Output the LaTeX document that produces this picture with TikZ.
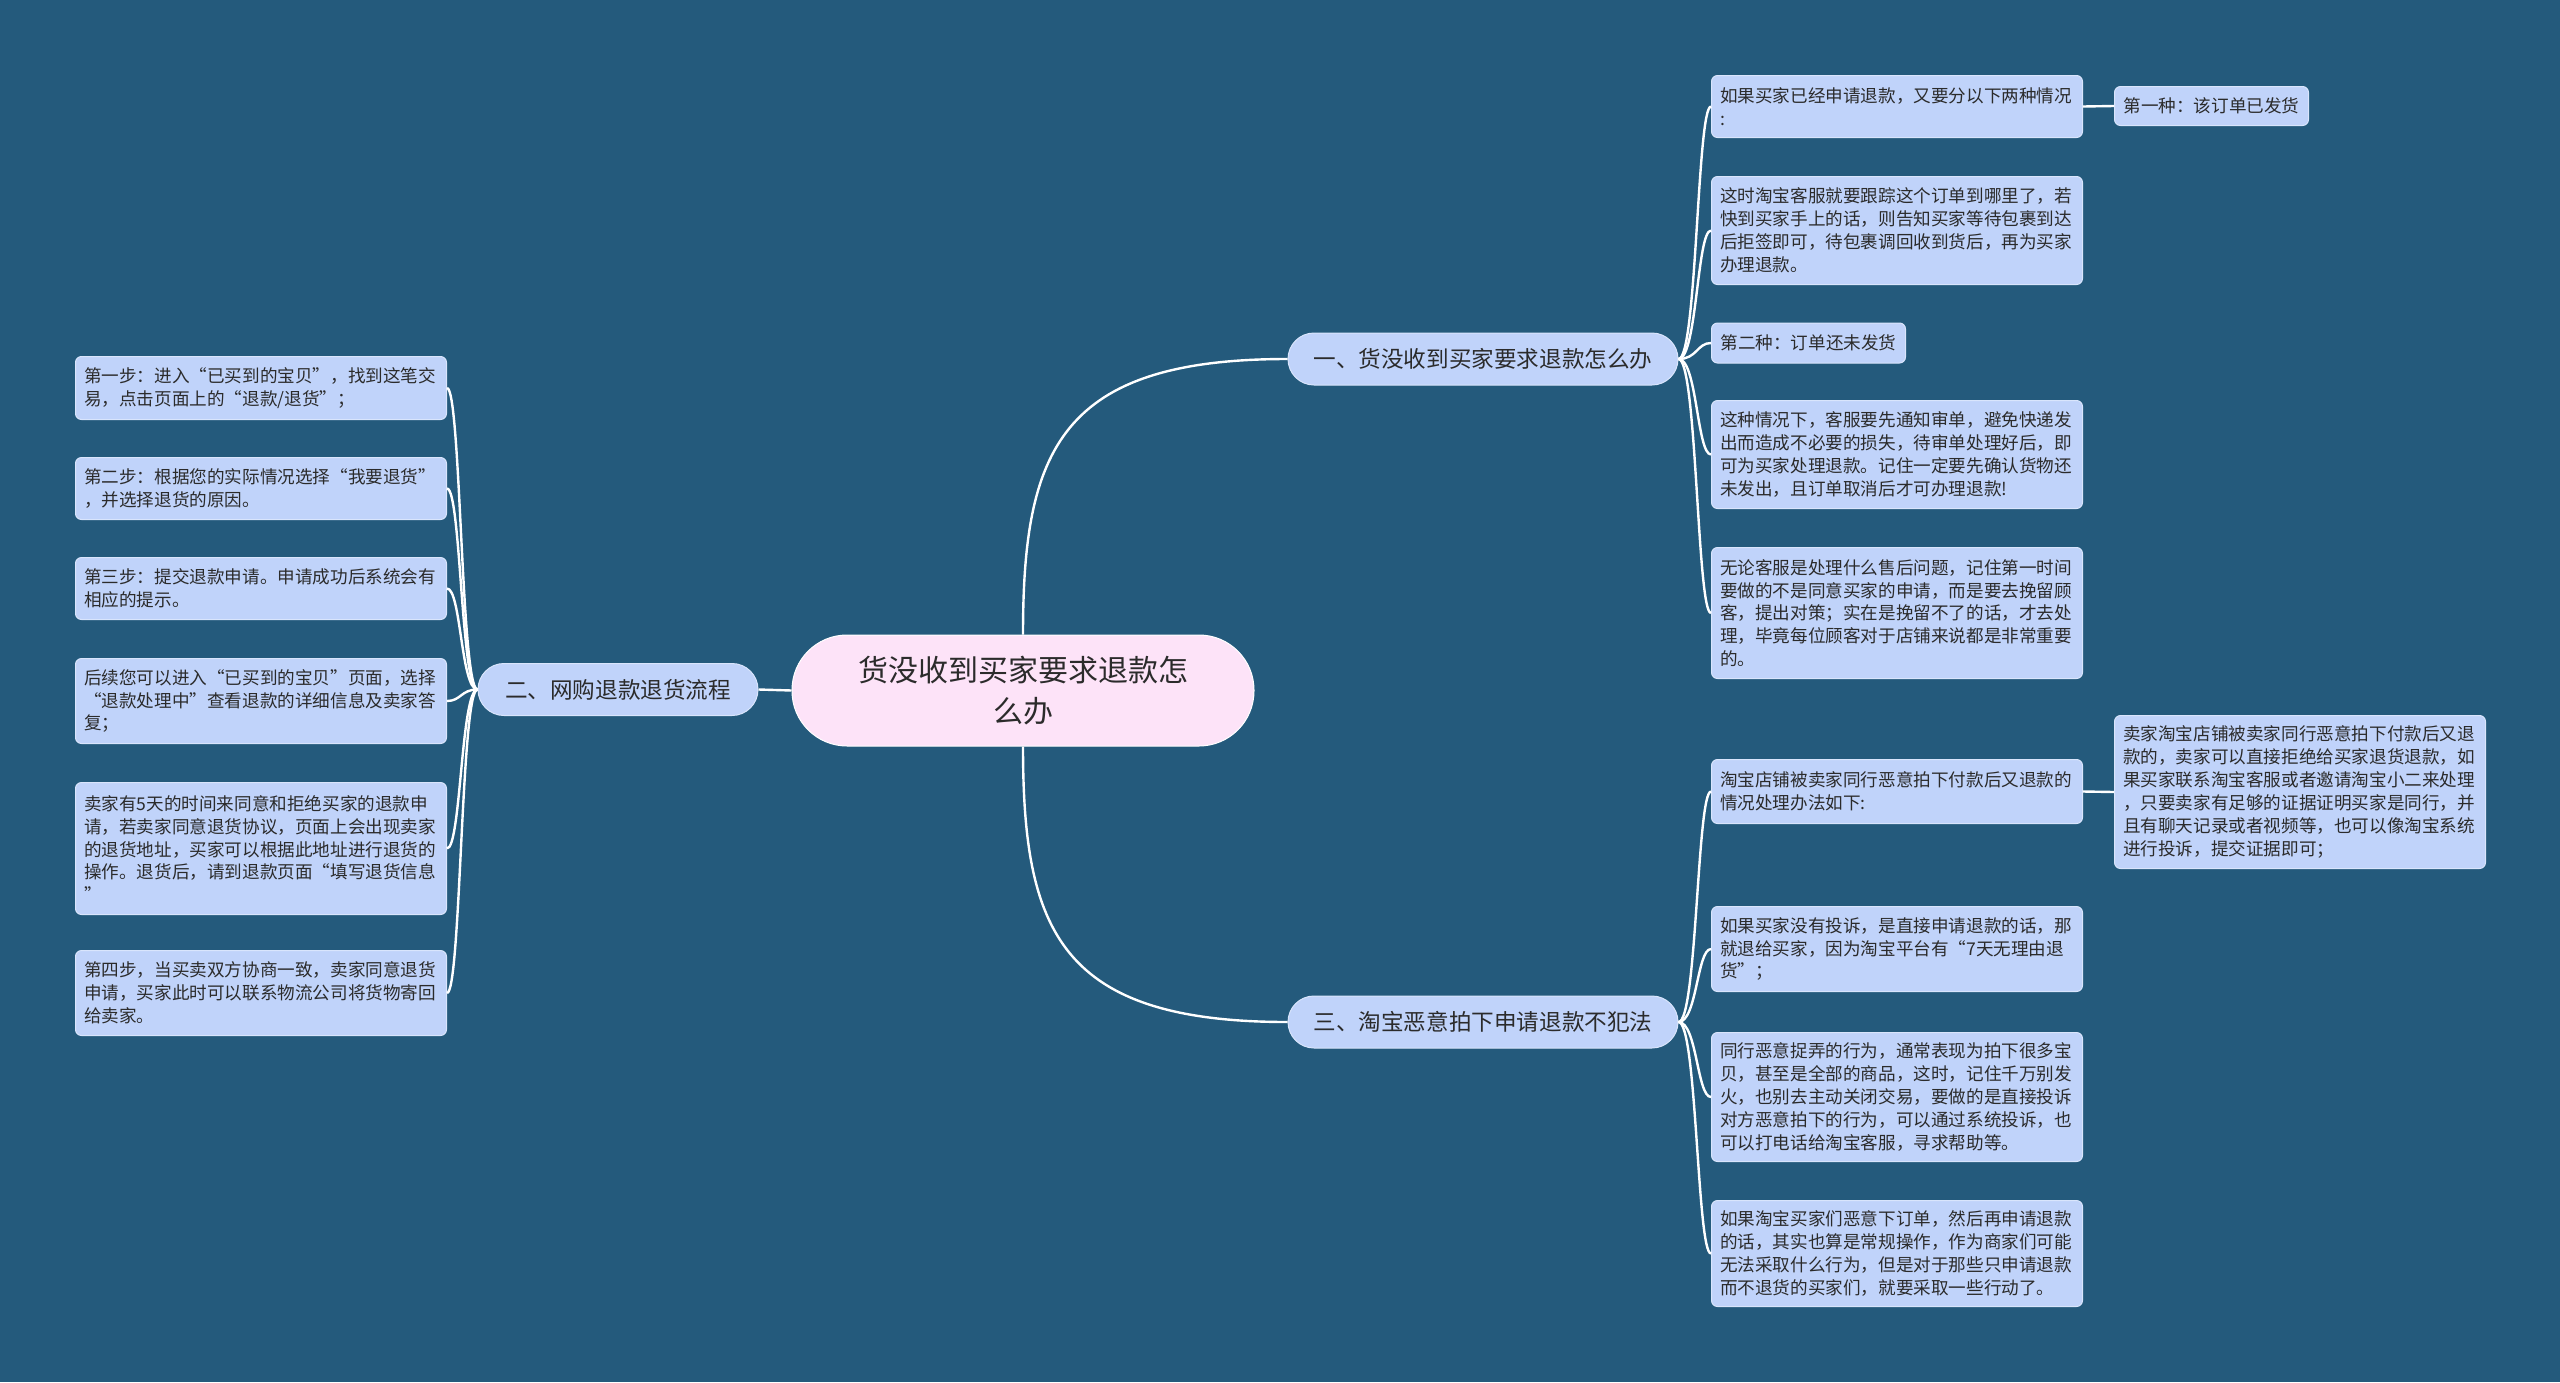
\documentclass[tikz,border=0pt]{standalone}
\usepackage{fontspec}
\setmainfont{Noto Sans CJK SC}
\definecolor{bgc}{HTML}{245A7C}
\definecolor{leafc}{HTML}{C0D3FA}
\definecolor{pinkc}{HTML}{FDE3F8}
\definecolor{txtc}{HTML}{2B2B2B}
\tikzset{
  conn/.style={draw=white, line width=2.4pt},
  leaf/.style={rectangle, rounded corners=6pt, fill=leafc, draw=white!40!leafc, line width=1pt,
    text width=354pt, inner xsep=8.5pt, inner ysep=0pt, align=left, anchor=north west,
    text=txtc, font=\fontsize{17.6}{22.9}\selectfont},
  leafs/.style={rectangle, rounded corners=6pt, fill=leafc, draw=white!40!leafc, line width=1pt,
    inner xsep=9pt, inner ysep=0pt, minimum height=39pt, anchor=west,
    text=txtc, font=\fontsize{17.6}{22.9}\selectfont},
  branch/.style={rectangle, rounded corners=26pt, fill=leafc, draw=white!40!leafc, line width=1pt,
    minimum height=52pt, inner sep=0pt, text=txtc, font=\fontsize{22.6}{28}\selectfont},
  root/.style={rectangle, rounded corners=55pt, fill=pinkc, draw=white, line width=1pt,
    minimum width=462pt, minimum height=111pt, inner sep=0pt, align=center,
    text=txtc, font=\fontsize{30}{41}\selectfont}
}
\begin{document}
\begin{tikzpicture}[x=1pt,y=-1pt]
\fill[bgc] (0,0) rectangle (2560,1382);
\useasboundingbox (0,0) rectangle (2560,1382);

% root and branches
\node[root] (c) at (1023,690.5) {货没收到买家要求退款怎\\么办};
\node[branch, minimum width=390pt] (b1) at (1483,359) {一、货没收到买家要求退款怎么办};
\node[branch, minimum width=280pt] (b2) at (618,689.5) {二、网购退款退货流程};
\node[branch, minimum width=390pt] (b3) at (1483,1022) {三、淘宝恶意拍下申请退款不犯法};

% left leaves
\node[leaf, minimum height=63pt] (l1) at (75,356) {第一步：进入“已买到的宝贝”，找到这笔交\\易，点击页面上的“退款/退货”；};
\node[leaf, minimum height=62pt] (l2) at (75,457) {第二步：根据您的实际情况选择“我要退货”\\，并选择退货的原因。};
\node[leaf, minimum height=62pt] (l3) at (75,557) {第三步：提交退款申请。申请成功后系统会有\\相应的提示。};
\node[leaf, minimum height=85pt] (l4) at (75,658) {后续您可以进入“已买到的宝贝”页面，选择\\“退款处理中”查看退款的详细信息及卖家答\\复；};
\node[leaf, minimum height=132pt] (l5) at (75,782) {卖家有5天的时间来同意和拒绝买家的退款申\\请，若卖家同意退货协议，页面上会出现卖家\\的退货地址，买家可以根据此地址进行退货的\\操作。退货后，请到退款页面“填写退货信息\\”};
\node[leaf, minimum height=85pt] (l6) at (75,950) {第四步，当买卖双方协商一致，卖家同意退货\\申请，买家此时可以联系物流公司将货物寄回\\给卖家。};

% right leaves, branch 1
\node[leaf, minimum height=62pt] (r1a) at (1711,75) {如果买家已经申请退款，又要分以下两种情况\\:};
\node[leafs] (r1ay) at (2114,106) {第一种：该订单已发货};
\node[leaf, minimum height=108pt] (r1b) at (1711,176) {这时淘宝客服就要跟踪这个订单到哪里了，若\\快到买家手上的话，则告知买家等待包裹到达\\后拒签即可，待包裹调回收到货后，再为买家\\办理退款。};
\node[leafs, minimum height=40pt] (r1x) at (1711,343) {第二种：订单还未发货};
\node[leaf, minimum height=108pt] (r1c) at (1711,400) {这种情况下，客服要先通知审单，避免快递发\\出而造成不必要的损失，待审单处理好后，即\\可为买家处理退款。记住一定要先确认货物还\\未发出，且订单取消后才可办理退款!};
\node[leaf, minimum height=131pt] (r1d) at (1711,547) {无论客服是处理什么售后问题，记住第一时间\\要做的不是同意买家的申请，而是要去挽留顾\\客，提出对策；实在是挽留不了的话，才去处\\理，毕竟每位顾客对于店铺来说都是非常重要\\的。};

% right leaves, branch 3
\node[leaf, minimum height=64pt] (r3a) at (1711,759) {淘宝店铺被卖家同行恶意拍下付款后又退款的\\情况处理办法如下:};
\node[leaf, minimum height=153pt] (r3ax) at (2114,715) {卖家淘宝店铺被卖家同行恶意拍下付款后又退\\款的，卖家可以直接拒绝给买家退货退款，如\\果买家联系淘宝客服或者邀请淘宝小二来处理\\，只要卖家有足够的证据证明买家是同行，并\\且有聊天记录或者视频等，也可以像淘宝系统\\进行投诉，提交证据即可；};
\node[leaf, minimum height=85pt] (r3b) at (1711,906) {如果买家没有投诉，是直接申请退款的话，那\\就退给买家，因为淘宝平台有“7天无理由退\\货”；};
\node[leaf, minimum height=129pt] (r3c) at (1711,1032) {同行恶意捉弄的行为，通常表现为拍下很多宝\\贝，甚至是全部的商品，这时，记住千万别发\\火，也别去主动关闭交易，要做的是直接投诉\\对方恶意拍下的行为，可以通过系统投诉，也\\可以打电话给淘宝客服，寻求帮助等。};
\node[leaf, minimum height=106pt] (r3d) at (1711,1200) {如果淘宝买家们恶意下订单，然后再申请退款\\的话，其实也算是常规操作，作为商家们可能\\无法采取什么行为，但是对于那些只申请退款\\而不退货的买家们，就要采取一些行动了。};

% trunk reference coordinates
\coordinate (tr) at (1697,0);
\coordinate (tl) at (461,0);
\coordinate (k1) at (1023,450);
\coordinate (k2) at (1060,359);
\coordinate (k3) at (1023,931);
\coordinate (k4) at (1060,1022);

% root connectors
\draw[conn] (c.north) .. controls (k1) and (k2) .. (b1.west);
\draw[conn] (c.south) .. controls (k3) and (k4) .. (b3.west);
\draw[conn] (c.west) -- (b2.east);

% branch 2 connectors
\foreach \n in {l1,l2,l3,l4,l5,l6}
  \draw[conn] (b2.west) .. controls (tl |- b2.west) and (tl |- \n.east) .. (\n.east);
% branch 1 connectors
\foreach \n in {r1a,r1b,r1x,r1c,r1d}
  \draw[conn] (b1.east) .. controls (tr |- b1.east) and (tr |- \n.west) .. (\n.west);
% branch 3 connectors
\foreach \n in {r3a,r3b,r3c,r3d}
  \draw[conn] (b3.east) .. controls (tr |- b3.east) and (tr |- \n.west) .. (\n.west);

\draw[conn] (r1a.east) -- (r1ay.west);
\draw[conn] (r3a.east) -- (r3ax.west);
\end{tikzpicture}
\end{document}
